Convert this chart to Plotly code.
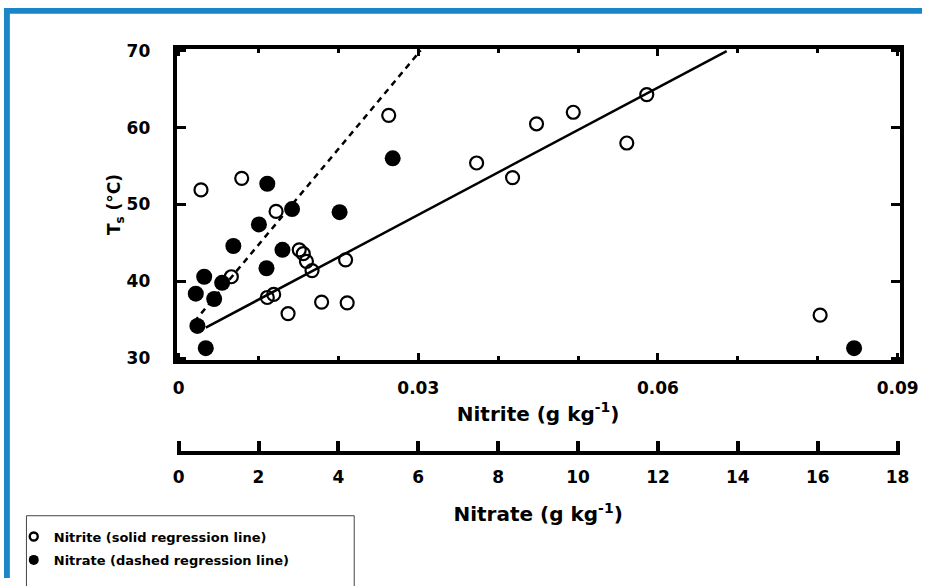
import plotly.graph_objects as go

# Surface temperature vs. nitrite (top scale) and nitrate (bottom scale)
nitrite_g_kg = [0.0028, 0.0079, 0.0066, 0.0111, 0.0119, 0.0122, 0.0137, 0.0151, 0.0156,
                0.0160, 0.0167, 0.0179, 0.0209, 0.0211, 0.0263, 0.0373, 0.0418, 0.0448,
                0.0494, 0.0561, 0.0586, 0.0803]
nitrite_ts = [51.9, 53.4, 40.6, 37.9, 38.3, 49.1, 35.8, 44.1, 43.6,
              42.6, 41.4, 37.3, 42.8, 37.2, 61.6, 55.4, 53.5, 60.5,
              62.0, 58.0, 64.3, 35.6]

nitrate_g_kg = [0.43, 0.47, 0.64, 0.68, 0.89, 1.09, 1.37, 2.01, 2.20, 2.22, 2.60, 2.84,
                4.03, 5.36, 16.91]
nitrate_ts = [38.4, 34.2, 40.6, 31.3, 37.7, 39.8, 44.6, 47.4, 41.7, 52.7, 44.1, 49.4,
              49.0, 56.0, 31.3]

# Regression lines: intercept, slope and the x span each line covers
nitrite_fit = (32.1, 552.0)
nitrite_fit_span = [0.0034, 0.0686]
nitrate_fit = (32.3, 6.23)
nitrate_fit_span = [0.39, 6.06]

nitrite_ticks = [0, 0.03, 0.06, 0.09]
nitrite_ticktext = ["0", "0.03", "0.06", "0.09"]
nitrite_minor = [0.01, 0.02, 0.04, 0.05, 0.07, 0.08]
nitrate_ticks = [0, 2, 4, 6, 8, 10, 12, 14, 16, 18]
ts_ticks = [30, 40, 50, 60, 70]

NITRITE_LABEL = "Nitrite (solid regression line)"
NITRATE_LABEL = "Nitrate (dashed regression line)"

W, H = 941, 586
LEFT, RIGHT, TOP, BOTTOM = 175, 920, 40, 364   # axis line centres in px
LW = 4                                          # frame line width
NITRATE_AXIS_Y = 457

FONT = "DejaVu Sans"
BLACK = "black"


def padded(lo, hi, span_px):
    # widen a range so the data edge sits on the centre of the thick frame line
    pad = (hi - lo) * (LW / 2) / span_px
    return [lo - pad, hi + pad]


x_dom = [(LEFT + LW / 2) / W, (RIGHT - LW / 2) / W]
y_dom = [1 - (BOTTOM - LW / 2) / H, 1 - (TOP + LW / 2) / H]
span_x = RIGHT - LEFT - LW
span_y = BOTTOM - TOP - LW


def line_pts(fit, span):
    a, b = fit
    return span, [a + b * v for v in span]


open_marker = dict(symbol="circle-open", size=13, color=BLACK, line=dict(width=2.2, color=BLACK))
filled_marker = dict(symbol="circle", size=16, color=BLACK, line=dict(width=0))

fig = go.Figure()

fx, fy = line_pts(nitrate_fit, nitrate_fit_span)
fig.add_trace(go.Scatter(x=fx, y=fy, xaxis="x2", yaxis="y", mode="lines",
                         line=dict(color=BLACK, width=2.5, dash="6px,5px"),
                         showlegend=False, hoverinfo="skip"))
fx, fy = line_pts(nitrite_fit, nitrite_fit_span)
fig.add_trace(go.Scatter(x=fx, y=fy, xaxis="x", yaxis="y", mode="lines",
                         line=dict(color=BLACK, width=2.5),
                         showlegend=False, hoverinfo="skip"))

fig.add_trace(go.Scatter(x=nitrate_g_kg, y=nitrate_ts, xaxis="x2", yaxis="y",
                         mode="markers", name=NITRATE_LABEL, marker=filled_marker,
                         showlegend=False))
fig.add_trace(go.Scatter(x=nitrite_g_kg, y=nitrite_ts, xaxis="x", yaxis="y",
                         mode="markers", name=NITRITE_LABEL, marker=open_marker,
                         showlegend=False))

# small key symbols for the legend box
fig.add_trace(go.Scatter(x=[None], y=[None], mode="markers", name=NITRITE_LABEL,
                         marker=dict(symbol="circle-open", size=8, color=BLACK,
                                     line=dict(width=2.4, color=BLACK)),
                         legend="legend"))
fig.add_trace(go.Scatter(x=[None], y=[None], mode="markers", name=NITRATE_LABEL,
                         marker=dict(symbol="circle", size=10, color=BLACK),
                         legend="legend2"))

tick_font = dict(family=FONT, size=17, color=BLACK, weight="bold")
title_font = dict(family=FONT, size=20, color=BLACK, weight="bold")
legend_font = dict(family=FONT, size=13, color=BLACK, weight="bold")

legend_common = dict(xanchor="left", yanchor="top", bgcolor="rgba(0,0,0,0)",
                     borderwidth=0, itemsizing="trace", itemwidth=30, font=legend_font)

fig.update_layout(
    width=W, height=H,
    margin=dict(l=0, r=0, t=0, b=0),
    paper_bgcolor="white", plot_bgcolor="white",
    xaxis=dict(
        domain=x_dom, range=padded(0, 0.09, span_x),
        tickmode="array", tickvals=nitrite_ticks, ticktext=nitrite_ticktext,
        ticks="inside", ticklen=7, tickwidth=3, tickcolor=BLACK,
        minor=dict(tickmode="array", tickvals=nitrite_minor, ticks="inside",
                   ticklen=4, tickwidth=3, tickcolor=BLACK, showgrid=False),
        showline=True, linewidth=LW, linecolor=BLACK, mirror="ticks",
        showgrid=False, zeroline=False, tickfont=tick_font, ticklabelstandoff=9,
        title=dict(text="Nitrite (g kg<sup>-1</sup>)", font=title_font, standoff=11),
    ),
    xaxis2=dict(
        overlaying="x", anchor="free", position=1 - NITRATE_AXIS_Y / H, side="bottom",
        range=padded(0, 18, span_x),
        tickmode="array", tickvals=nitrate_ticks,
        ticks="inside", ticklen=10, tickwidth=3.5, tickcolor=BLACK,
        showline=True, linewidth=LW, linecolor=BLACK,
        showgrid=False, zeroline=False, tickfont=tick_font, ticklabelstandoff=8,
        title=dict(text="Nitrate (g kg<sup>-1</sup>)", font=title_font, standoff=20),
    ),
    yaxis=dict(
        domain=y_dom, range=padded(30, 70, span_y),
        tickmode="array", tickvals=ts_ticks,
        ticks="inside", ticklen=9, tickwidth=3, tickcolor=BLACK,
        showline=True, linewidth=LW, linecolor=BLACK, mirror="ticks",
        showgrid=False, zeroline=False, tickfont=tick_font, ticklabelstandoff=19,
        title=dict(text="T<sub>s</sub> (°C)", font=dict(family=FONT, size=17, color=BLACK,
                                                      weight="bold"), standoff=2),
    ),
    legend=dict(x=10 / W, y=1 - 528 / H, **legend_common),
    legend2=dict(x=10 / W, y=1 - 552 / H, **legend_common),
    shapes=[
        # legend frame
        dict(type="rect", xref="paper", yref="paper", x0=23 / W, x1=359 / W,
             y0=1 - 600 / H, y1=1 - 522 / H, line=dict(color="#444", width=1),
             fillcolor="white", layer="below"),
        # blue page border along top and left
        dict(type="rect", xref="paper", yref="paper", x0=0, x1=6 / W, y0=0, y1=1,
             line=dict(width=0), fillcolor="#1a86c8", layer="above"),
        dict(type="rect", xref="paper", yref="paper", x0=0, x1=1, y0=1 - 6 / H, y1=1,
             line=dict(width=0), fillcolor="#1a86c8", layer="above"),
    ],
)

fig.write_html("out.html")
